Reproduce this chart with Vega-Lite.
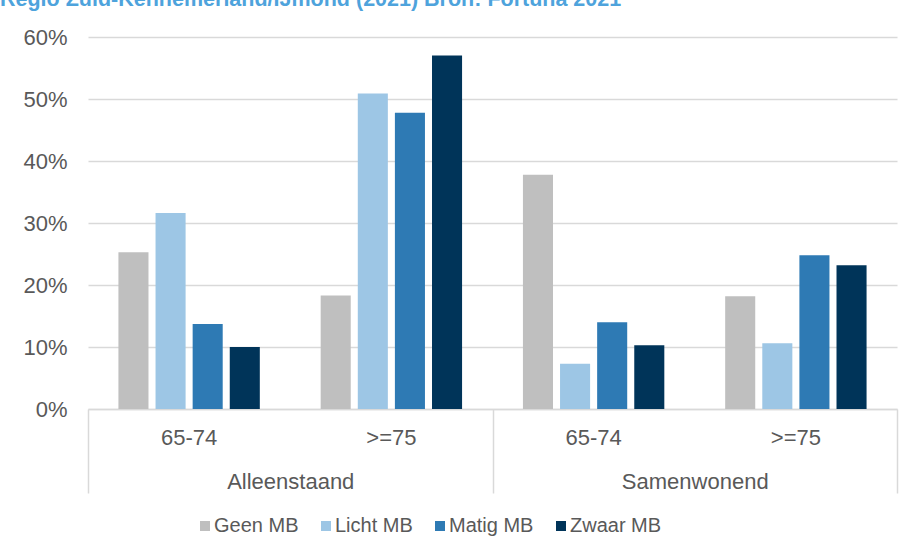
{
  "$schema": "https://vega.github.io/schema/vega-lite/v6.json",
  "autosize": {"type": "none"},
  "width": 809,
  "height": 372,
  "padding": {"left": 88, "top": 37, "right": 16, "bottom": 147},
  "background": "white",
  "title": {
    "text": "Regio Zuid-Kennemerland/IJmond (2021) Bron: Fortuna 2021",
    "anchor": "start",
    "frame": "group",
    "dx": -88,
    "dy": 21,
    "baseline": "alphabetic",
    "offset": 20,
    "font": "Liberation Sans",
    "fontSize": 21.5,
    "fontWeight": "bold",
    "color": "#4ea3dc"
  },
  "data": {
    "values": [
      {"huishouden": "Alleenstaand", "leeftijd": "65-74", "groep": "Alleenstaand|65-74", "mb": "Geen MB", "aandeel": 0.253},
      {"huishouden": "Alleenstaand", "leeftijd": "65-74", "groep": "Alleenstaand|65-74", "mb": "Licht MB", "aandeel": 0.316},
      {"huishouden": "Alleenstaand", "leeftijd": "65-74", "groep": "Alleenstaand|65-74", "mb": "Matig MB", "aandeel": 0.137},
      {"huishouden": "Alleenstaand", "leeftijd": "65-74", "groep": "Alleenstaand|65-74", "mb": "Zwaar MB", "aandeel": 0.100},
      {"huishouden": "Alleenstaand", "leeftijd": ">=75", "groep": "Alleenstaand|>=75", "mb": "Geen MB", "aandeel": 0.183},
      {"huishouden": "Alleenstaand", "leeftijd": ">=75", "groep": "Alleenstaand|>=75", "mb": "Licht MB", "aandeel": 0.509},
      {"huishouden": "Alleenstaand", "leeftijd": ">=75", "groep": "Alleenstaand|>=75", "mb": "Matig MB", "aandeel": 0.478},
      {"huishouden": "Alleenstaand", "leeftijd": ">=75", "groep": "Alleenstaand|>=75", "mb": "Zwaar MB", "aandeel": 0.570},
      {"huishouden": "Samenwonend", "leeftijd": "65-74", "groep": "Samenwonend|65-74", "mb": "Geen MB", "aandeel": 0.378},
      {"huishouden": "Samenwonend", "leeftijd": "65-74", "groep": "Samenwonend|65-74", "mb": "Licht MB", "aandeel": 0.073},
      {"huishouden": "Samenwonend", "leeftijd": "65-74", "groep": "Samenwonend|65-74", "mb": "Matig MB", "aandeel": 0.140},
      {"huishouden": "Samenwonend", "leeftijd": "65-74", "groep": "Samenwonend|65-74", "mb": "Zwaar MB", "aandeel": 0.103},
      {"huishouden": "Samenwonend", "leeftijd": ">=75", "groep": "Samenwonend|>=75", "mb": "Geen MB", "aandeel": 0.182},
      {"huishouden": "Samenwonend", "leeftijd": ">=75", "groep": "Samenwonend|>=75", "mb": "Licht MB", "aandeel": 0.106},
      {"huishouden": "Samenwonend", "leeftijd": ">=75", "groep": "Samenwonend|>=75", "mb": "Matig MB", "aandeel": 0.248},
      {"huishouden": "Samenwonend", "leeftijd": ">=75", "groep": "Samenwonend|>=75", "mb": "Zwaar MB", "aandeel": 0.232}
    ]
  },
  "layer": [
    {
      "mark": {"type": "bar"},
      "encoding": {
        "x": {
          "field": "groep",
          "type": "nominal",
          "sort": ["Alleenstaand|65-74", "Alleenstaand|>=75", "Samenwonend|65-74", "Samenwonend|>=75"],
          "scale": {"paddingInner": 0, "paddingOuter": 0},
          "axis": {
            "orient": "bottom",
            "title": null,
            "labelExpr": "split(datum.label, '|')[1]",
            "labelAngle": 0,
            "ticks": false,
            "tickSize": 0,
            "labelPadding": 18,
            "domain": true,
            "domainColor": "#d9d9d9",
            "domainWidth": 1.5,
            "grid": false
          }
        },
        "xOffset": {
          "field": "mb",
          "type": "nominal",
          "sort": ["Geen MB", "Licht MB", "Matig MB", "Zwaar MB"],
          "scale": {"paddingInner": 0.19, "paddingOuter": 0.82}
        },
        "y": {
          "field": "aandeel",
          "type": "quantitative",
          "stack": null,
          "scale": {"domain": [0, 0.6], "nice": false},
          "axis": {
            "title": null,
            "format": ".0%",
            "values": [0, 0.1, 0.2, 0.3, 0.4, 0.5, 0.6],
            "ticks": false,
            "tickSize": 0,
            "domain": false,
            "labelPadding": 21,
            "grid": true,
            "gridColor": "#d9d9d9",
            "gridWidth": 1.5
          }
        },
        "color": {
          "field": "mb",
          "type": "nominal",
          "sort": ["Geen MB", "Licht MB", "Matig MB", "Zwaar MB"],
          "scale": {
            "domain": ["Geen MB", "Licht MB", "Matig MB", "Zwaar MB"],
            "range": ["#bfbfbf", "#9dc6e5", "#2e7ab4", "#003459"]
          },
          "legend": {
            "title": null,
            "orient": "none",
            "direction": "horizontal",
            "legendX": 107,
            "legendY": 479,
            "padding": 0,
            "symbolType": "square",
            "symbolSize": 100,
            "symbolStrokeWidth": 0,
            "labelOffset": -1,
            "columnPadding": 17,
            "labelFontSize": 20,
            "labelFont": "Liberation Sans",
            "labelColor": "#595959"
          }
        }
      }
    },
    {
      "mark": {"type": "bar", "opacity": 0},
      "encoding": {
        "x": {
          "field": "huishouden",
          "type": "nominal",
          "sort": ["Alleenstaand", "Samenwonend"],
          "scale": {"paddingInner": 0, "paddingOuter": 0},
          "axis": {
            "orient": "bottom",
            "title": null,
            "labelAngle": 0,
            "ticks": true,
            "tickBand": "extent",
            "tickSize": 84,
            "tickColor": "#d9d9d9",
            "tickWidth": 1.5,
            "labelPadding": -22,
            "domain": false,
            "grid": false
          }
        },
        "y": {"field": "aandeel", "type": "quantitative", "stack": null}
      }
    }
  ],
  "resolve": {"scale": {"x": "independent"}},
  "config": {
    "view": {"stroke": null},
    "font": "Liberation Sans",
    "axis": {
      "labelFont": "Liberation Sans",
      "labelFontSize": 22,
      "labelColor": "#595959"
    }
  }
}
